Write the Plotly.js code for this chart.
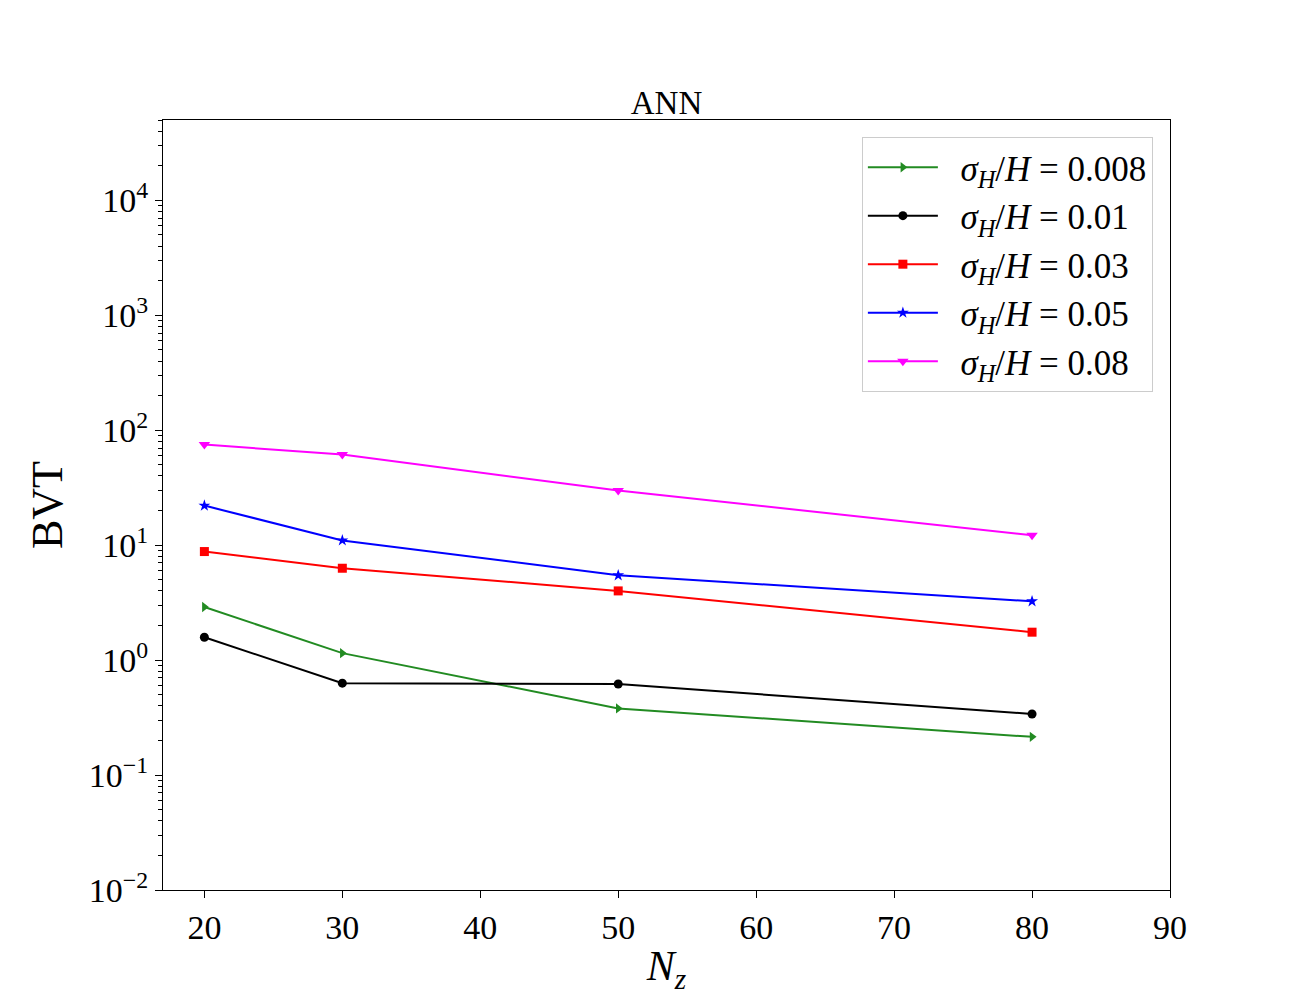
<!DOCTYPE html>
<html>
<head>
<meta charset="utf-8">
<script src="https://cdn.plot.ly/plotly-3.0.1.min.js"></script>
<style>html,body{margin:0;padding:0;background:#fff;}</style>
</head>
<body>
<div id="chart" style="width:1300px;height:1000px;"></div>
<script>
const nz = [20, 30, 50, 80];
const bvt_0008 = [2.9, 1.15, 0.38, 0.215];
const bvt_001 = [1.58, 0.63, 0.62, 0.34];
const bvt_003 = [8.8, 6.3, 4.0, 1.75];
const bvt_005 = [22.1, 11.0, 5.47, 3.25];
const bvt_008 = [75, 61.4, 29.9, 12.2];
const seriesNames = ["0.008", "0.01", "0.03", "0.05", "0.08"];
const yTickVals = [0.01, 0.1, 1, 10, 100, 1000, 10000];
const yTickText = ["10<sup>−2</sup>", "10<sup>−1</sup>", "10<sup>0</sup>", "10<sup>1</sup>", "10<sup>2</sup>", "10<sup>3</sup>", "10<sup>4</sup>"];
const xTickVals = [20, 30, 40, 50, 60, 70, 80, 90];

// minor tick positions on the log axis (2..9 within each decade)
const yMinorVals = [];
yTickVals.forEach(d => { for (let k = 2; k <= 9; k++) { const v = d * k; if (v <= 50000) yMinorVals.push(v); } });

const seriesData = [bvt_0008, bvt_001, bvt_003, bvt_005, bvt_008];
const colors = ["#228B22", "#000000", "#ff0000", "#0000ff", "#ff00ff"];
const symbols = ["triangle-right", "circle", "square", "star", "triangle-down"];
const sizes = [9, 9, 9, 9, 10];

const font = "'Liberation Serif', 'DejaVu Serif', serif";

const traces = seriesData.map((d, i) => ({
  x: nz, y: d, type: "scatter", mode: "lines+markers",
  name: "\u2002<i>σ</i><sub><i>H</i></sub>/<i>H</i> = " + seriesNames[i],
  line: {color: colors[i], width: 2},
  marker: {color: colors[i], symbol: symbols[i], size: sizes[i]}
}));

const layout = {
  width: 1300, height: 1000,
  paper_bgcolor: "#fff", plot_bgcolor: "#fff",
  margin: {l: 163, r: 130, t: 120, b: 110},
  font: {family: font, color: "#000", size: 33},
  title: {text: "ANN", font: {family: font, size: 33, color: "#000"}, x: 0.5, xref: "paper", y: 1, yref: "paper", yanchor: "bottom", pad: {b: 6}},
  xaxis: {
    range: [17, 90], tickvals: xTickVals, ticks: "outside", ticklen: 7, tickwidth: 1, tickcolor: "#000",
    showline: true, linecolor: "#000", linewidth: 1, mirror: true, showgrid: false, zeroline: false,
    tickfont: {family: font, size: 34},
    title: {text: "<i>N</i><sub><i>z</i></sub>", font: {family: font, size: 42}, standoff: 5}
  },
  yaxis: {
    type: "log", range: [-2, 4.699], tickmode: "array", tickvals: yTickVals, ticktext: yTickText,
    ticks: "outside", ticklen: 7, tickwidth: 1, tickcolor: "#000",
    minor: {tickmode: "array", tickvals: yMinorVals, ticks: "outside", ticklen: 4, tickwidth: 1, tickcolor: "#000", showgrid: false},
    showline: true, linecolor: "#000", linewidth: 1, mirror: true, showgrid: false, zeroline: false,
    tickfont: {family: font, size: 34},
    title: {text: "BVT", font: {family: font, size: 44}, standoff: 12}
  },
  legend: {
    x: 0.983, y: 0.978, xanchor: "right", yanchor: "top",
    bgcolor: "rgba(255,255,255,0.8)", bordercolor: "#cccccc", borderwidth: 1,
    font: {family: font, size: 35}, tracegroupgap: 0, itemwidth: 70
  },
  showlegend: true
};

Plotly.newPlot("chart", traces, layout, {displayModeBar: false, staticPlot: true});
</script>
</body>
</html>
